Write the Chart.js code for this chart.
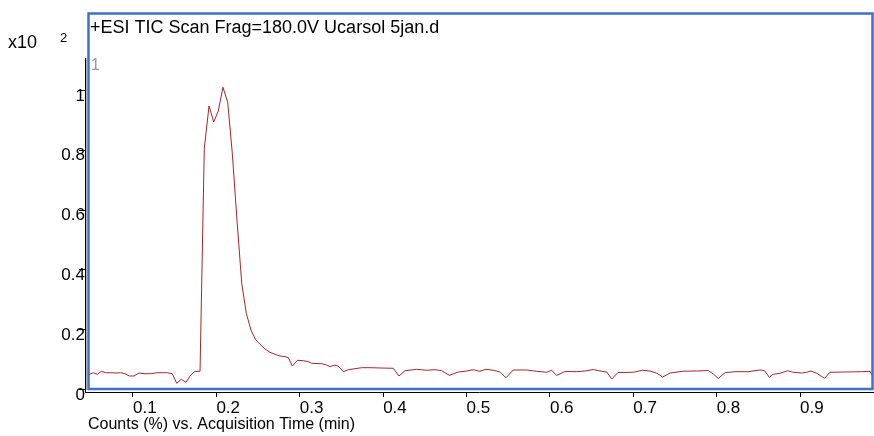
<!DOCTYPE html>
<html>
<head>
<meta charset="utf-8">
<script src="https://cdn.jsdelivr.net/npm/chart.js@4/dist/chart.umd.min.js"></script>
<style>
    body { margin: 0; background: #fff; }
    canvas { display: block; }
</style>
</head>
<body>
<canvas id="ticChart" width="874" height="436"></canvas>
<script>
// acquisition time (min) and counts (x10^2)
const times = [
    0.0460, 0.0524, 0.0572, 0.0620, 0.0673, 0.0733, 0.0793, 0.0853, 0.0912, 0.0960,
    0.1012, 0.1072, 0.1132, 0.1212, 0.1291, 0.1351, 0.1411, 0.1471, 0.1524, 0.1579,
    0.1636, 0.1692, 0.1744, 0.1804, 0.1855, 0.1912, 0.1968, 0.2023, 0.2079, 0.2136,
    0.2191, 0.2247, 0.2304, 0.2359, 0.2415, 0.2469, 0.2523, 0.2583, 0.2643, 0.2703,
    0.2763, 0.2823, 0.2863, 0.2911, 0.2971, 0.3043, 0.3103, 0.3143, 0.3263, 0.3323,
    0.3363, 0.3423, 0.3471, 0.3522, 0.3582, 0.3743, 0.3843, 0.3963, 0.4122, 0.4190,
    0.4262, 0.4403, 0.4523, 0.4622, 0.4703, 0.4794, 0.4902, 0.4982, 0.5082, 0.5154,
    0.5234, 0.5321, 0.5393, 0.5474, 0.5561, 0.5722, 0.5842, 0.5962, 0.6022, 0.6080,
    0.6181, 0.6322, 0.6421, 0.6521, 0.6581, 0.6682, 0.6742, 0.6817, 0.7001, 0.7109,
    0.7201, 0.7281, 0.7353, 0.7441, 0.7600, 0.7761, 0.7900, 0.7960, 0.8020, 0.8100,
    0.8220, 0.8380, 0.8520, 0.8572, 0.8632, 0.8680, 0.8760, 0.8852, 0.8920, 0.9020,
    0.9080, 0.9132, 0.9200, 0.9294, 0.9360, 0.9540, 0.9740, 0.9840, 0.9875
];
const counts = [
    0.0569, 0.0645, 0.0592, 0.0692, 0.0645, 0.0645, 0.0635, 0.0645, 0.0602, 0.0535,
    0.0535, 0.0635, 0.0612, 0.0612, 0.0645, 0.0645, 0.0645, 0.0612, 0.0291, 0.0425,
    0.0324, 0.0569, 0.0692, 0.0692, 0.8151, 0.9565, 0.9030, 0.9398, 1.0191, 0.9689,
    0.7983, 0.5753, 0.3635, 0.2632, 0.2074, 0.1756, 0.1595, 0.1438, 0.1328, 0.1261,
    0.1204, 0.1181, 0.1147, 0.0870, 0.1060, 0.1047, 0.1013, 0.0960, 0.0946, 0.0903,
    0.0846, 0.0903, 0.0846, 0.0679, 0.0746, 0.0813, 0.0813, 0.0803, 0.0793, 0.0535,
    0.0712, 0.0759, 0.0726, 0.0746, 0.0712, 0.0559, 0.0669, 0.0692, 0.0746, 0.0692,
    0.0759, 0.0726, 0.0679, 0.0478, 0.0736, 0.0736, 0.0692, 0.0659, 0.0726, 0.0552,
    0.0686, 0.0679, 0.0702, 0.0753, 0.0712, 0.0669, 0.0435, 0.0652, 0.0659, 0.0726,
    0.0702, 0.0629, 0.0502, 0.0635, 0.0696, 0.0702, 0.0719, 0.0602, 0.0452, 0.0645,
    0.0679, 0.0679, 0.0736, 0.0719, 0.0492, 0.0592, 0.0625, 0.0712, 0.0659, 0.0635,
    0.0659, 0.0702, 0.0625, 0.0458, 0.0659, 0.0669, 0.0679, 0.0692, 0.0535
];

const xTickValues = [0.1, 0.2, 0.3, 0.4, 0.5, 0.6, 0.7, 0.8, 0.9];
const xTickLabels = ['0.1', '0.2', '0.3', '0.4', '0.5', '0.6', '0.7', '0.8', '0.9'];
const yTickValues = [0, 0.2, 0.4, 0.6, 0.8, 1];
const yTickLabels = ['0', '0.2', '0.4', '0.6', '0.8', '1'];

const plotTitle = '+ESI TIC Scan Frag=180.0V Ucarsol 5jan.d';
const xAxisTitle = 'Counts (%) vs. Acquisition Time (min)';

const FONT = 'Arial, "Liberation Sans", sans-serif';
const FRAME_BLUE = '#3d72c8';

// frame, header and labels drawn on top like the MassHunter export
const framePlugin = {
    id: 'frame',
    afterDraw(chart) {
        const c = chart.ctx;
        const area = chart.chartArea;
        const y = chart.scales.y;
        c.save();

        // small y tick marks sit at top of each label
        c.strokeStyle = '#000';
        c.lineWidth = 1;
        yTickValues.forEach(v => {
            const py = Math.round(y.getPixelForValue(v) - 3) + 0.5;
            c.beginPath();
            c.moveTo(79, py);
            c.lineTo(85, py);
            c.stroke();
        });

        c.strokeStyle = '#b4b4b4';
        c.beginPath();
        c.moveTo(86.5, area.top);
        c.lineTo(86.5, 390);
        c.stroke();

        c.strokeStyle = FRAME_BLUE;
        c.lineWidth = 2.5;
        c.strokeRect(88.5, 13.5, 784, 375.5);

        c.fillStyle = '#000';
        c.textBaseline = 'middle';
        c.textAlign = 'left';
        c.font = '18px ' + FONT;
        c.fillText(plotTitle, 90, 28);
        c.fillText('x10', 8, 43);
        c.font = '13px ' + FONT;
        c.fillText('2', 60, 38);
        c.fillStyle = '#999';
        c.font = '16px ' + FONT;
        c.fillText('1', 91, 66);
        c.fillStyle = '#000';
        c.font = '16px ' + FONT;
        c.fillText(xAxisTitle, 88, 425);
        c.restore();
    }
};

new Chart(document.getElementById('ticChart'), {
    type: 'line',
    data: {
        datasets: [{
            data: times.map((t, i) => ({ x: t, y: counts[i] })),
            borderColor: '#a8242a',
            borderWidth: 1,
            pointRadius: 0,
            tension: 0,
            fill: false,
        }]
    },
    options: {
        responsive: false,
        animation: false,
        events: [],
        layout: { padding: { top: 58, right: 1, left: 0, bottom: 0 } },
        plugins: { legend: { display: false }, tooltip: { enabled: false } },
        scales: {
            x: {
                type: 'linear',
                min: 0.04243,
                max: 0.98755,
                afterFit: s => { s.height = 44; },
                afterBuildTicks: s => { s.ticks = xTickValues.map(v => ({ value: v })); },
                border: { display: true, color: '#000', width: 1 },
                grid: { drawOnChartArea: false, drawTicks: true, tickLength: 5, color: '#000' },
                ticks: {
                    align: 'start',
                    maxRotation: 0,
                    autoSkip: false,
                    padding: 1,
                    color: '#000',
                    font: { family: FONT, size: 17 },
                    callback: v => xTickLabels[xTickValues.findIndex(x => Math.abs(x - v) < 1e-6)]
                }
            },
            y: {
                min: 0,
                max: 1.117,
                afterFit: s => { s.width = 85; },
                afterBuildTicks: s => { s.ticks = yTickValues.map(v => ({ value: v })); },
                border: { display: true, color: '#000', width: 1 },
                grid: { display: false, drawTicks: false },
                ticks: {
                    padding: 0,
                    labelOffset: 3,
                    autoSkip: false,
                    color: '#000',
                    font: { family: FONT, size: 17 },
                    callback: v => yTickLabels[yTickValues.findIndex(x => Math.abs(x - v) < 1e-6)]
                }
            }
        }
    },
    plugins: [framePlugin]
});
</script>
</body>
</html>
